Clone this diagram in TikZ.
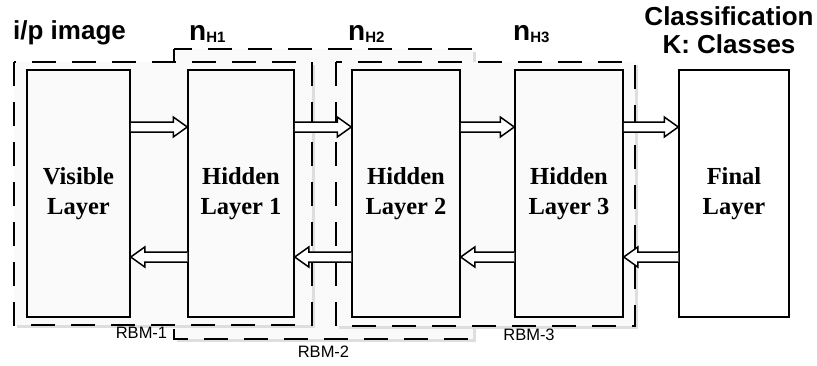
\documentclass[tikz,border=0pt]{standalone}
\usepackage{fontspec}
\setmainfont{Liberation Serif}
\setsansfont{Liberation Sans}
\usetikzlibrary{arrows.meta,calc}
\begin{document}
\begin{tikzpicture}[x=1pt,y=-1pt,
  layer/.style={draw, line width=1.5pt, inner sep=0pt, align=center, minimum height=247pt,
    font=\bfseries\fontsize{24.5}{30}\selectfont},
  rbm/.style={line width=1.6pt, dash pattern=on 24pt off 16pt},
  rbmfill/.style={fill=black!2},
  shade/.style={fill=black!13},
  harrow/.style={draw, fill=white, line width=1.5pt, line join=miter,
    to path={let \p1=(\tikztostart), \p2=(\tikztotarget), \n1={sign(\x2-\x1)} in
      (\x1,\y1+5pt) -- (\x2-14pt*\n1,\y1+5pt) -- (\x2-14pt*\n1,\y1+10pt) -- (\x2,\y1)
      -- (\x2-14pt*\n1,\y1-10pt) -- (\x2-14pt*\n1,\y1-5pt) -- (\x1,\y1-5pt)}},
  rlabel/.style={font=\sffamily\fontsize{16.5}{18}\selectfont, inner sep=0pt},
  title/.style={font=\sffamily\bfseries\fontsize{26}{28}\selectfont, inner sep=0pt}]
\useasboundingbox (0,0) rectangle (817,365);

% RBM-2 (behind)
\fill[shade] (177,52) rectangle (476,342);
\fill[rbmfill] (174,49) rectangle (473,339);
\draw[rbm] (174,49) rectangle (473,339);
% RBM-1
\fill[shade] (17,65) rectangle (315,328);
\fill[rbmfill] (14,62) rectangle (312,325);
\draw[rbm] (14,62) rectangle (312,325);
% RBM-3
\fill[shade] (339,65) rectangle (638,329);
\fill[rbmfill] (336,62) rectangle (635,326);
\draw[rbm] (336,62) rectangle (635,326);

% layers
\node[layer, minimum width=103pt] (v)  at (78.5,193.5) {Visible\\Layer};
\node[layer, minimum width=106pt] (h1) at (241,193.5) {Hidden\\Layer 1};
\node[layer, minimum width=108pt] (h2) at (406,193.5) {Hidden\\Layer 2};
\node[layer, minimum width=108pt] (h3) at (569,193.5) {Hidden\\Layer 3};
\node[layer, minimum width=110pt] (f)  at (734,193.5) {Final\\Layer};

% forward arrows
\draw[harrow] ([yshift=66.5pt]v.east)  to ([yshift=66.5pt]h1.west);
\draw[harrow] ([yshift=66.5pt]h1.east) to ([yshift=66.5pt]h2.west);
\draw[harrow] ([yshift=66.5pt]h2.east) to ([yshift=66.5pt]h3.west);
\draw[harrow] ([yshift=66.5pt]h3.east) to ([yshift=66.5pt]f.west);
% backward arrows
\draw[harrow] ([yshift=-63.5pt]h1.west) to ([yshift=-63.5pt]v.east);
\draw[harrow] ([yshift=-63.5pt]h2.west) to ([yshift=-63.5pt]h1.east);
\draw[harrow] ([yshift=-63.5pt]h3.west) to ([yshift=-63.5pt]h2.east);
\draw[harrow] ([yshift=-63.5pt]f.west)  to ([yshift=-63.5pt]h3.east);

% titles
\node[title, anchor=base west] (ip) at (13,39) {i/p image};
\node[title, anchor=base] (cls1) at (729,25) {Classification};
\node[title, anchor=base] (cls2) at (729,53) {K: Classes};
\node[title, anchor=base west] (n1) at (189,40) {{\fontsize{28}{30}\selectfont n}\raisebox{-2pt}{\fontsize{15}{16}\selectfont H1}};
\node[title, anchor=base west] (n2) at (348,40) {{\fontsize{28}{30}\selectfont n}\raisebox{-2pt}{\fontsize{15}{16}\selectfont H2}};
\node[title, anchor=base west] (n3) at (513,40) {{\fontsize{28}{30}\selectfont n}\raisebox{-2pt}{\fontsize{15}{16}\selectfont H3}};

% RBM labels
\node[rlabel] (r1) at (141.5,333) {RBM-1};
\node[rlabel] (r2) at (323.5,351.5) {RBM-2};
\node[rlabel] (r3) at (529,335) {RBM-3};
\end{tikzpicture}
\end{document}
